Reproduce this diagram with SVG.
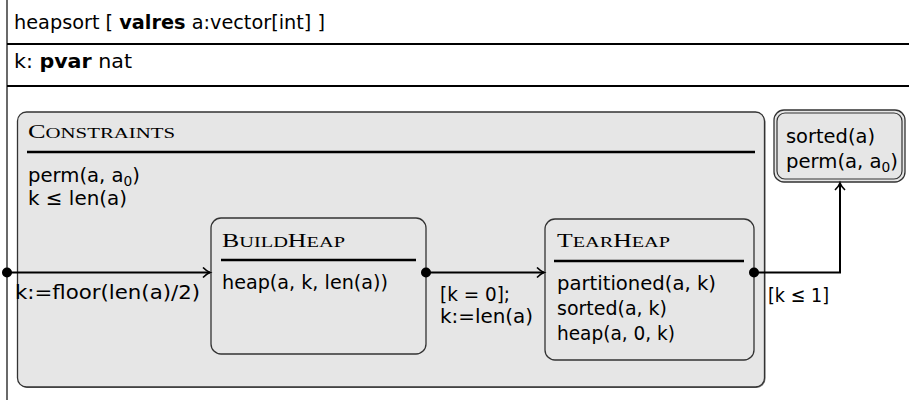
<svg xmlns="http://www.w3.org/2000/svg" width="909" height="402" viewBox="0 0 909 402">
<defs>
<style>
.t{font-family:"DejaVu Sans","Liberation Sans",sans-serif;font-size:20px;fill:#000}
.sc{font-family:"Liberation Serif","DejaVu Serif",serif;fill:#000}
.box{fill:#e6e6e6;stroke:#333;stroke-width:1.3}
.sep{stroke:#000;stroke-width:2.5}
.rule{stroke:#000;stroke-width:2}
.conn{fill:none;stroke:#000;stroke-width:2}
</style>
<marker id="ah" markerWidth="12" markerHeight="12" refX="9" refY="6" orient="auto" markerUnits="userSpaceOnUse">
<path d="M2,1 Q6,5 9,6 Q6,7 2,11" fill="none" stroke="#000" stroke-width="1.6"/>
</marker>
</defs>
<line x1="7" y1="0" x2="7" y2="400" stroke="#444" stroke-width="1.6"/>
<line class="rule" x1="7" y1="44" x2="909" y2="44"/>
<line class="rule" x1="7" y1="86" x2="909" y2="86"/>
<text class="t" x="14" y="29" textLength="311" lengthAdjust="spacingAndGlyphs">heapsort [ <tspan font-weight="bold">valres</tspan> a:vector[int] ]</text>
<text class="t" x="14" y="68" textLength="118" lengthAdjust="spacingAndGlyphs">k: <tspan font-weight="bold">pvar</tspan> nat</text>

<g id="constraints">
<rect x="18.5" y="113" width="747" height="275" rx="9" fill="#777"/>
<rect class="box" x="17.5" y="112" width="747" height="275" rx="9"/>
<text class="sc" x="28" y="138" textLength="147" lengthAdjust="spacingAndGlyphs"><tspan font-size="19">C</tspan><tspan font-size="15">ONSTRAINTS</tspan></text>
<line class="sep" x1="27" y1="152" x2="755" y2="152"/>
<text class="t" x="28" y="182" textLength="112" lengthAdjust="spacingAndGlyphs">perm(a, a<tspan font-size="14" dy="4">0</tspan><tspan dy="-4">)</tspan></text>
<text class="t" x="28" y="205" textLength="99" lengthAdjust="spacingAndGlyphs">k ≤ len(a)</text>
</g>

<g id="buildheap">
<rect class="box" x="211" y="218" width="215" height="136" rx="10"/>
<text class="sc" x="222" y="247" textLength="123" lengthAdjust="spacingAndGlyphs"><tspan font-size="19">B</tspan><tspan font-size="15">UILD</tspan><tspan font-size="19">H</tspan><tspan font-size="15">EAP</tspan></text>
<line class="sep" x1="221" y1="260" x2="416" y2="260"/>
<text class="t" x="222" y="289" textLength="166" lengthAdjust="spacingAndGlyphs">heap(a, k, len(a))</text>
</g>

<g id="tearheap">
<rect class="box" x="545" y="219" width="209" height="141" rx="10"/>
<text class="sc" x="557" y="247" textLength="113" lengthAdjust="spacingAndGlyphs"><tspan font-size="19">T</tspan><tspan font-size="15">EAR</tspan><tspan font-size="19">H</tspan><tspan font-size="15">EAP</tspan></text>
<line class="sep" x1="554" y1="261" x2="744" y2="261"/>
<text class="t" x="557" y="290" textLength="159" lengthAdjust="spacingAndGlyphs">partitioned(a, k)</text>
<text class="t" x="557" y="315" textLength="110" lengthAdjust="spacingAndGlyphs">sorted(a, k)</text>
<text class="t" x="557" y="340" textLength="118" lengthAdjust="spacingAndGlyphs">heap(a, 0, k)</text>
</g>

<g id="final">
<rect class="box" x="774" y="110" width="131" height="72" rx="10"/>
<rect x="777" y="113" width="125" height="66" rx="8" fill="none" stroke="#333" stroke-width="1.2"/>
<text class="t" x="786" y="143" textLength="89" lengthAdjust="spacingAndGlyphs">sorted(a)</text>
<text class="t" x="786" y="168" textLength="112" lengthAdjust="spacingAndGlyphs">perm(a, a<tspan font-size="14" dy="4">0</tspan><tspan dy="-4">)</tspan></text>
</g>

<g id="connectors">
<circle cx="7" cy="272.5" r="5"/>
<line class="conn" x1="7" y1="272.5" x2="210" y2="272.5" marker-end="url(#ah)"/>
<text class="t" x="15" y="299" textLength="185" lengthAdjust="spacingAndGlyphs">k:=floor(len(a)/2)</text>
<circle cx="426" cy="272.5" r="5"/>
<line class="conn" x1="426" y1="272.5" x2="544" y2="272.5" marker-end="url(#ah)"/>
<text class="t" x="440" y="301" textLength="70" lengthAdjust="spacingAndGlyphs">[k = 0];</text>
<text class="t" x="440" y="323" textLength="93" lengthAdjust="spacingAndGlyphs">k:=len(a)</text>
<circle cx="754" cy="272.5" r="5"/>
<polyline class="conn" points="754,272.5 840,272.5 840,183" marker-end="url(#ah)"/>
<text class="t" x="768" y="302" textLength="61" lengthAdjust="spacingAndGlyphs">[k ≤ 1]</text>
</g>
</svg>
